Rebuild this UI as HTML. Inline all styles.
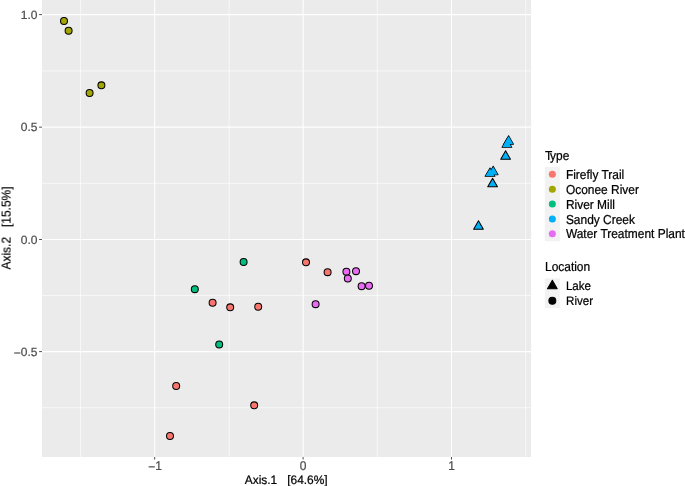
<!DOCTYPE html>
<html><head><meta charset="utf-8"><title>PCoA</title>
<style>
html,body{margin:0;padding:0;background:#fff;}
body{width:685px;height:486px;overflow:hidden;position:relative;}
svg{display:block;will-change:transform;transform:translateZ(0);}
text{font-family:"Liberation Sans",sans-serif;text-rendering:geometricPrecision;stroke-width:0.22px;}
.yt{position:absolute;left:5.6px;top:228.4px;width:200px;height:14px;line-height:14px;margin-left:-100px;margin-top:-7px;text-align:center;white-space:pre;font-family:"Liberation Sans",sans-serif;font-size:11.95px;color:#000;will-change:transform;transform:rotate(-90deg) scale(1,1.06);-webkit-text-stroke:0.2px #000;}
.tk{font-size:12px;fill:#4D4D4D;stroke:#4D4D4D;}
.ti{font-size:11.95px;fill:#000;stroke:#000;}
.tkx{font-size:12px;fill:#4D4D4D;stroke:#4D4D4D;}
.lg2{font-size:11.55px;fill:#000;stroke:#000;}
.tx{font-size:11.95px;fill:#000;stroke:#000;}
.lg{font-size:11.95px;fill:#000;stroke:#000;}
</style></head><body>
<svg width="685" height="486" viewBox="0 0 685 486">
<rect x="0" y="0" width="685" height="486" fill="#FFFFFF"/>
<rect x="42.0" y="0.0" width="489.10" height="457.00" fill="#EBEBEB"/>
<g stroke="#FFFFFF" fill="none">
<line x1="80.50" x2="80.50" y1="0.0" y2="457.0" stroke-width="0.62"/>
<line x1="229.20" x2="229.20" y1="0.0" y2="457.0" stroke-width="0.62"/>
<line x1="377.30" x2="377.30" y1="0.0" y2="457.0" stroke-width="0.62"/>
<line x1="525.70" x2="525.70" y1="0.0" y2="457.0" stroke-width="0.62"/>
<line y1="70.90" y2="70.90" x1="42.0" x2="531.1" stroke-width="0.62"/>
<line y1="183.30" y2="183.30" x1="42.0" x2="531.1" stroke-width="0.62"/>
<line y1="295.55" y2="295.55" x1="42.0" x2="531.1" stroke-width="0.62"/>
<line y1="407.70" y2="407.70" x1="42.0" x2="531.1" stroke-width="0.62"/>
<line x1="154.70" x2="154.70" y1="0.0" y2="457.0" stroke-width="1.07"/>
<line x1="303.10" x2="303.10" y1="0.0" y2="457.0" stroke-width="1.07"/>
<line x1="451.50" x2="451.50" y1="0.0" y2="457.0" stroke-width="1.07"/>
<line y1="14.60" y2="14.60" x1="42.0" x2="531.1" stroke-width="1.07"/>
<line y1="127.15" y2="127.15" x1="42.0" x2="531.1" stroke-width="1.07"/>
<line y1="239.50" y2="239.50" x1="42.0" x2="531.1" stroke-width="1.07"/>
<line y1="351.60" y2="351.60" x1="42.0" x2="531.1" stroke-width="1.07"/>
</g>
<g stroke="#333333" stroke-width="1.0" stroke-opacity="0.85">
<line x1="154.70" x2="154.70" y1="457.0" y2="459.50"/>
<line x1="303.10" x2="303.10" y1="457.0" y2="459.50"/>
<line x1="451.50" x2="451.50" y1="457.0" y2="459.50"/>
<line y1="14.60" y2="14.60" x1="39.10" x2="42.0"/>
<line y1="127.15" y2="127.15" x1="39.10" x2="42.0"/>
<line y1="239.50" y2="239.50" x1="39.10" x2="42.0"/>
<line y1="351.60" y2="351.60" x1="39.10" x2="42.0"/>
</g>
<text class="tkx" transform="translate(155.00,470.00) scale(1,1.05)" text-anchor="middle" xml:space="preserve"><tspan dy="1.2">−</tspan><tspan dy="-1.2">1</tspan></text>
<text class="tkx" transform="translate(303.10,470.00) scale(1,1.05)" text-anchor="middle" xml:space="preserve">0</text>
<text class="tkx" transform="translate(451.50,470.00) scale(1,1.05)" text-anchor="middle" xml:space="preserve">1</text>
<text class="tk" transform="translate(37.50,19.00) scale(1,1.0)" text-anchor="end" xml:space="preserve">1.0</text>
<text class="tk" transform="translate(37.50,131.00) scale(1,1.0)" text-anchor="end" xml:space="preserve">0.5</text>
<text class="tk" transform="translate(37.50,244.00) scale(1,1.0)" text-anchor="end" xml:space="preserve">0.0</text>
<text class="tk" transform="translate(37.50,356.00) scale(1,1.0)" text-anchor="end" xml:space="preserve"><tspan dy="1.2">−</tspan><tspan dy="-1.2">0.5</tspan></text>
<text class="tx" transform="translate(286.20,484.00) scale(1,1.03)" text-anchor="middle" xml:space="preserve">Axis.1   [64.6%]</text>
<g stroke="#000" stroke-width="1.02">
<circle cx="64.0" cy="20.95" r="3.48" fill="#A3A500"/>
<circle cx="68.6" cy="30.75" r="3.48" fill="#A3A500"/>
<circle cx="101.4" cy="85.35" r="3.48" fill="#A3A500"/>
<circle cx="89.6" cy="92.95" r="3.48" fill="#A3A500"/>
<circle cx="243.6" cy="261.95" r="3.48" fill="#00BF7D"/>
<circle cx="194.8" cy="289.15" r="3.48" fill="#00BF7D"/>
<circle cx="219.2" cy="344.55" r="3.48" fill="#00BF7D"/>
<circle cx="212.6" cy="302.75" r="3.48" fill="#F8766D"/>
<circle cx="230.2" cy="307.35" r="3.48" fill="#F8766D"/>
<circle cx="258.2" cy="306.75" r="3.48" fill="#F8766D"/>
<circle cx="176.2" cy="385.95" r="3.48" fill="#F8766D"/>
<circle cx="254.2" cy="405.35" r="3.48" fill="#F8766D"/>
<circle cx="170.0" cy="435.95" r="3.48" fill="#F8766D"/>
<circle cx="306.0" cy="262.35" r="3.48" fill="#F8766D"/>
<circle cx="327.6" cy="272.15" r="3.48" fill="#F8766D"/>
<circle cx="346.4" cy="271.75" r="3.48" fill="#E76BF3"/>
<circle cx="356.0" cy="271.15" r="3.48" fill="#E76BF3"/>
<circle cx="347.8" cy="278.55" r="3.48" fill="#E76BF3"/>
<circle cx="361.6" cy="286.15" r="3.48" fill="#E76BF3"/>
<circle cx="369.0" cy="285.75" r="3.48" fill="#E76BF3"/>
<circle cx="315.6" cy="304.15" r="3.48" fill="#E76BF3"/>
<polygon points="505.60,150.78 510.47,159.21 500.73,159.21" fill="#00B0F6" stroke-linejoin="round"/>
<polygon points="492.60,178.38 497.47,186.81 487.73,186.81" fill="#00B0F6" stroke-linejoin="round"/>
<polygon points="478.50,220.73 483.37,229.16 473.63,229.16" fill="#00B0F6" stroke-linejoin="round"/>
</g>
<polygon points="508.60,135.73 513.47,144.16 503.73,144.16" fill="#00B0F6" stroke="#000" stroke-width="1.02" stroke-linejoin="round"/>
<polygon points="506.90,138.88 511.77,147.31 502.03,147.31" fill="#00B0F6" stroke="#000" stroke-width="1.02" stroke-linejoin="round"/>
<polygon points="508.60,136.24 513.03,143.91 504.17,143.91" fill="#00B0F6"/>
<polygon points="506.90,139.39 511.33,147.06 502.47,147.06" fill="#00B0F6"/>
<polygon points="493.20,166.23 498.07,174.66 488.33,174.66" fill="#00B0F6" stroke="#000" stroke-width="1.02" stroke-linejoin="round"/>
<polygon points="490.00,167.93 494.87,176.36 485.13,176.36" fill="#00B0F6" stroke="#000" stroke-width="1.02" stroke-linejoin="round"/>
<polygon points="493.20,166.74 497.63,174.41 488.77,174.41" fill="#00B0F6"/>
<polygon points="490.00,168.44 494.43,176.11 485.57,176.11" fill="#00B0F6"/>
<text class="ti" transform="translate(545.10,160.00) scale(1,1.09)" xml:space="preserve">T<tspan dx="-1.65">ype</tspan></text>
<rect x="544.85" y="166.8" width="15.00" height="74.50" fill="#F2F2F2"/>
<circle cx="552.35" cy="174.25" r="3.52" fill="#F8766D"/>
<text class="lg" transform="translate(565.90,179.00) scale(1,1.09)" xml:space="preserve">Firefly Trail</text>
<circle cx="552.35" cy="189.15" r="3.52" fill="#A3A500"/>
<text class="lg" transform="translate(565.90,194.00) scale(1,1.09)" xml:space="preserve">Oconee River</text>
<circle cx="552.35" cy="204.05" r="3.52" fill="#00BF7D"/>
<text class="lg" transform="translate(565.90,209.00) scale(1,1.09)" xml:space="preserve">River Mill</text>
<circle cx="552.35" cy="218.95" r="3.52" fill="#00B0F6"/>
<text class="lg" transform="translate(565.90,224.00) scale(1,1.09)" xml:space="preserve">Sandy Creek</text>
<circle cx="552.35" cy="233.85" r="3.52" fill="#E76BF3"/>
<text class="lg" transform="translate(565.90,238.00) scale(1,1.09)" xml:space="preserve">Water Treatment Plant</text>
<text class="ti" transform="translate(545.00,271.00) scale(1,1.09)" xml:space="preserve">Location</text>
<rect x="544.85" y="278.4" width="15.00" height="29.80" fill="#F2F2F2"/>
<polygon points="552.35,280.23 557.22,288.66 547.48,288.66" fill="#000" stroke="#000" stroke-width="1.02" stroke-linejoin="round"/>
<text class="lg2" transform="translate(565.90,290.00) scale(1,1.07)" xml:space="preserve">Lake</text>
<circle cx="552.35" cy="300.75" r="3.48" fill="#000" stroke="#000" stroke-width="1.02"/>
<text class="lg2" transform="translate(566.10,305.00) scale(1,1.07)" xml:space="preserve">River</text>
</svg>
<div class="yt">Axis.2&#160;&#160; [15.5%]</div>
</body></html>
